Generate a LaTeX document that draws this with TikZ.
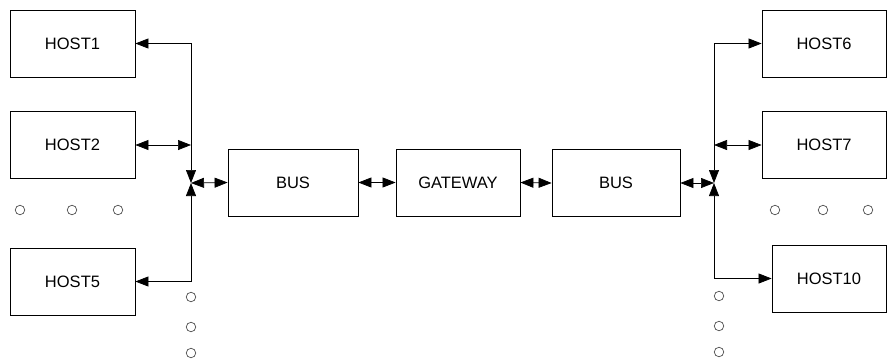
\documentclass[tikz,border=0pt]{standalone}
\usepackage{fontspec}
\setsansfont{Liberation Sans}
\usepackage{tikz}
\usetikzlibrary{arrows.meta,calc}
\tikzset{
  unit/.style = {rectangle, draw=black, line width=0.8pt, align=center,
    font=\sffamily\fontsize{16.5}{19}\selectfont, text=black,
    minimum height=67pt},% generic block
  hostbox/.style = {unit, minimum width=125pt},% host station
  busbox/.style = {unit, minimum width=130pt},% bus segment
  gwbox/.style = {unit, minimum width=124pt},% gateway
  link/.style = {line width=0.7pt,
    {Triangle[length=13pt,width=10pt]}-{Triangle[length=13pt,width=10pt]}},
  dotmark/.style = {circle, draw=black!70, line width=0.7pt, inner sep=0pt,
    minimum size=9.5pt}% ellipsis marker
}

\begin{document}
\begin{tikzpicture}[x=1pt, y=-1pt]
  \useasboundingbox (0,0) rectangle (887,360);
  % left side hosts
  \node [hostbox] (host1) at (72.5,43.5) {HOST1};
  \node [hostbox] (host2) at (72.5,145) {HOST2};
  \node [hostbox] (host5) at (72.5,281.5) {HOST5};
  % middle chain
  \node [busbox] (busl) at (293,182.5) {BUS};
  \node [gwbox] (gw) at (458,182.5) {GATEWAY};
  \node [busbox, minimum width=128pt] (busr) at (616,183) {BUS};
  % right side hosts
  \node [hostbox, minimum width=124pt] (host6) at (824,43.5) {HOST6};
  \node [hostbox, minimum width=124pt] (host7) at (824,145) {HOST7};
  \node [hostbox, minimum width=114pt] (host10) at (829,278.5) {HOST10};
  % junction points
  \coordinate (jl) at (191,183);
  \coordinate (jr) at (714,183);

  \draw [link] (host1.east) -| (jl);
  \draw [link] (host2.east) -- (host2.east -| jl);
  \draw [link] (host5.east) -| (jl);
  \draw [link] (jl) -- (busl.west);
  \draw [link] (busl.east) -- (gw.west);
  \draw [link] (gw.east) -- (busr.west);
  \draw [link] (busr.east) -- (jr);
  \draw [link] (jr) |- (host6.west);
  \draw [link] (host7.west -| jr) -- (host7.west);
  \draw [link] (jr) |- (host10.west);

  % more hosts / more lines
  \foreach \x [count=\i] in {20,72,118}
    \node [dotmark] (dl\i) at (\x,210) {};
  \foreach \x [count=\i] in {775,823,868}
    \node [dotmark] (dr\i) at (\x,210) {};
  \foreach \y [count=\i] in {297,327,353} {
    \node [dotmark] (vl\i) at (191,\y) {};
    \node [dotmark] (vr\i) at (719,\y-1) {};
  }
\end{tikzpicture}
\end{document}
